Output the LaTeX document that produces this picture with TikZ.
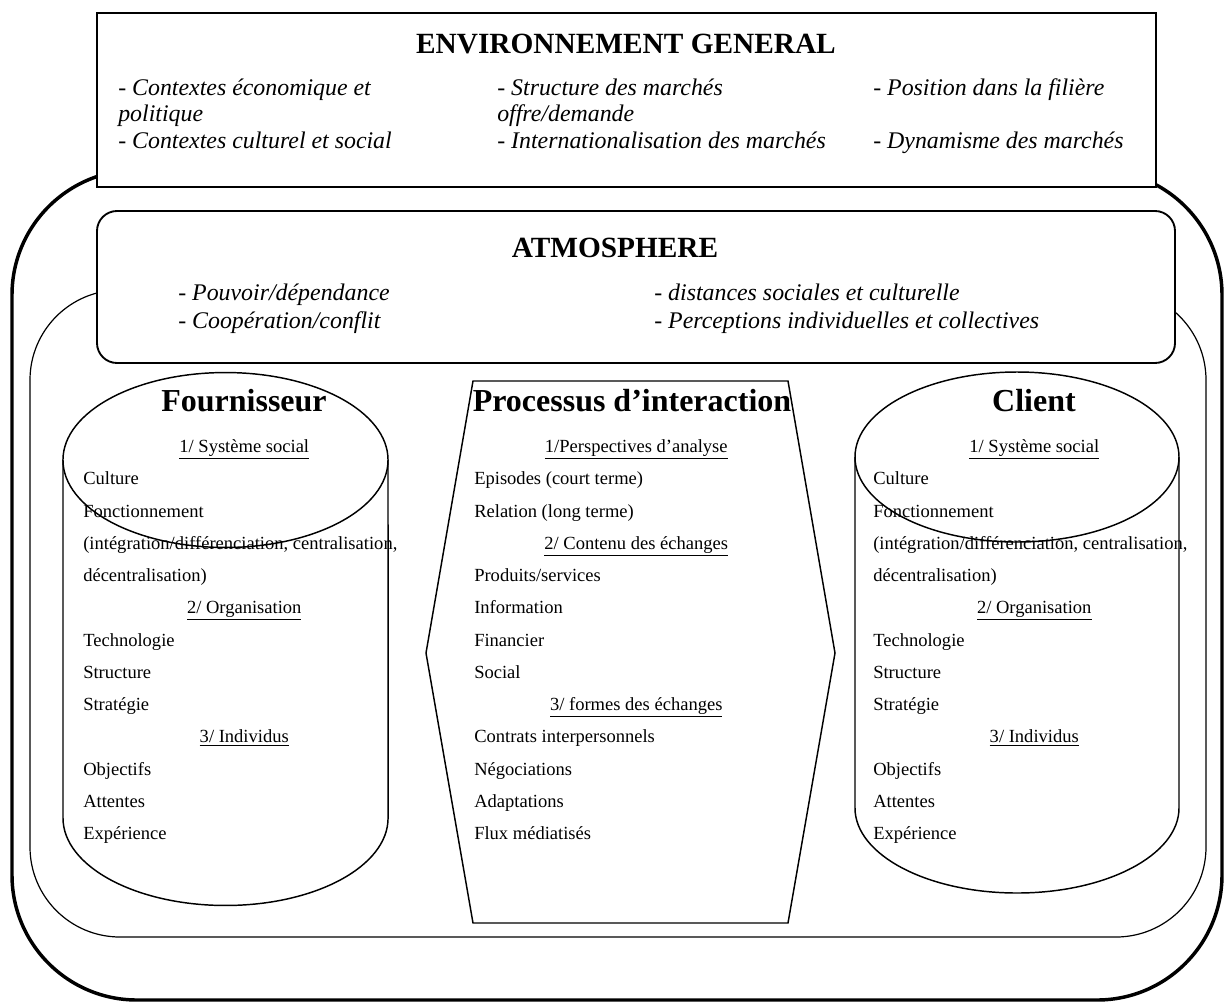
\documentclass[tikz,border=0pt]{standalone}
\usepackage{fontspec}
\setmainfont{Liberation Serif}
\newcommand\rubrique[1]{\hspace*{\fill}\underline{#1}\hspace*{\fill}\null}

\begin{document}
\begin{tikzpicture}[
    x=0.75pt, y=-0.75pt,
    cadre/.style={draw=black, line width=1.1pt},
    boite/.style={draw=black, line width=1.4pt, fill=white},
    titre/.style={font=\fontsize{22pt}{26pt}\selectfont\bfseries, anchor=base, inner sep=0pt},
    grandtitre/.style={font=\fontsize{24pt}{28pt}\selectfont\bfseries, anchor=base, inner sep=0pt},
    facteurs/.style={font=\fontsize{17.9pt}{#1}\selectfont\itshape, text width=320pt, align=flush left, anchor=base west, inner sep=0pt},
    facteurs/.default=20pt,
    liste/.style={font=\fontsize{13.9pt}{24.19pt}\selectfont, text width=#1, align=flush left, anchor=base west, inner sep=0pt},
    liste/.default=241.5pt
]
\useasboundingbox (0,0) rectangle (1228,1004);

% Enveloppes
\draw[line width=2.6pt, rounded corners=93.75pt] (12,170) rectangle (1222,1000);
\draw[line width=0.9pt, rounded corners=67.5pt] (30,290) rectangle (1206,937);

% Environnement general
\draw[boite] (97,13) rectangle (1156,187);
\node (env) [titre] at (626,53) {ENVIRONNEMENT GENERAL};
\node (contextes) [facteurs] at (118,95) {- Contextes économique et\\politique\\- Contextes culturel et social};
\node (marches) [facteurs] at (497,95) {- Structure des marchés\\offre/demande\\- Internationalisation des marchés};
\node (filiere) [facteurs] at (873,95) {- Position dans la filière\\\mbox{}\\- Dynamisme des marchés};

% Atmosphere
\draw[boite, rounded corners=15pt] (97,211) rectangle (1175,363);
\node (atmo) [titre] at (615,257) {ATMOSPHERE};
\node (pouvoir) [facteurs=21.2pt] at (178,300) {- Pouvoir/dépendance\\- Coopération/conflit};
\node (distances) [facteurs=21.2pt] at (654,300) {- distances sociales et culturelle\\- Perceptions individuelles et collectives};

% Fournisseur
\draw[cadre] (63,460) -- (63,818) arc[start angle=180, end angle=360, x radius=121.9pt, y radius=65.6pt] -- (388,460);
\draw[cadre] (225.5,460) ellipse [x radius=121.9pt, y radius=65.6pt];
\node (fourn) [grandtitre] at (244,411) {Fournisseur};
\node (fournliste) [liste] at (83,452.5) {\rubrique{1/ Système social}\\Culture\\Fonctionnement\\\mbox{(intégration/différenciation, centralisation,}\\décentralisation)\\\rubrique{2/ Organisation}\\Technologie\\Structure\\Stratégie\\\rubrique{3/ Individus}\\Objectifs\\Attentes\\Expérience};

% Processus d'interaction
\draw[cadre] (473,381) -- (788,381) -- (835,653) -- (788,923) -- (473,923) -- (426,653) -- cycle;
\node (proc) [grandtitre] at (632,411) {Processus d’interaction};
\node (procliste) [liste=243pt] at (474,452.5) {\rubrique{1/Perspectives d’analyse}\\Episodes (court terme)\\Relation (long terme)\\\rubrique{2/ Contenu des échanges}\\Produits/services\\Information\\Financier\\Social\\\rubrique{3/ formes des échanges}\\Contrats interpersonnels\\Négociations\\Adaptations\\Flux médiatisés};

% Client
\draw[cadre] (855,457) -- (855,808) arc[start angle=180, end angle=360, x radius=121.5pt, y radius=63.75pt] -- (1179,457);
\draw[cadre] (1017,457) ellipse [x radius=121.5pt, y radius=63.75pt];
\node (client) [grandtitre] at (1034,411) {Client};
\node (clientliste) [liste] at (873,452.5) {\rubrique{1/ Système social}\\Culture\\Fonctionnement\\\mbox{(intégration/différenciation, centralisation,}\\décentralisation)\\\rubrique{2/ Organisation}\\Technologie\\Structure\\Stratégie\\\rubrique{3/ Individus}\\Objectifs\\Attentes\\Expérience};

\end{tikzpicture}
\end{document}
